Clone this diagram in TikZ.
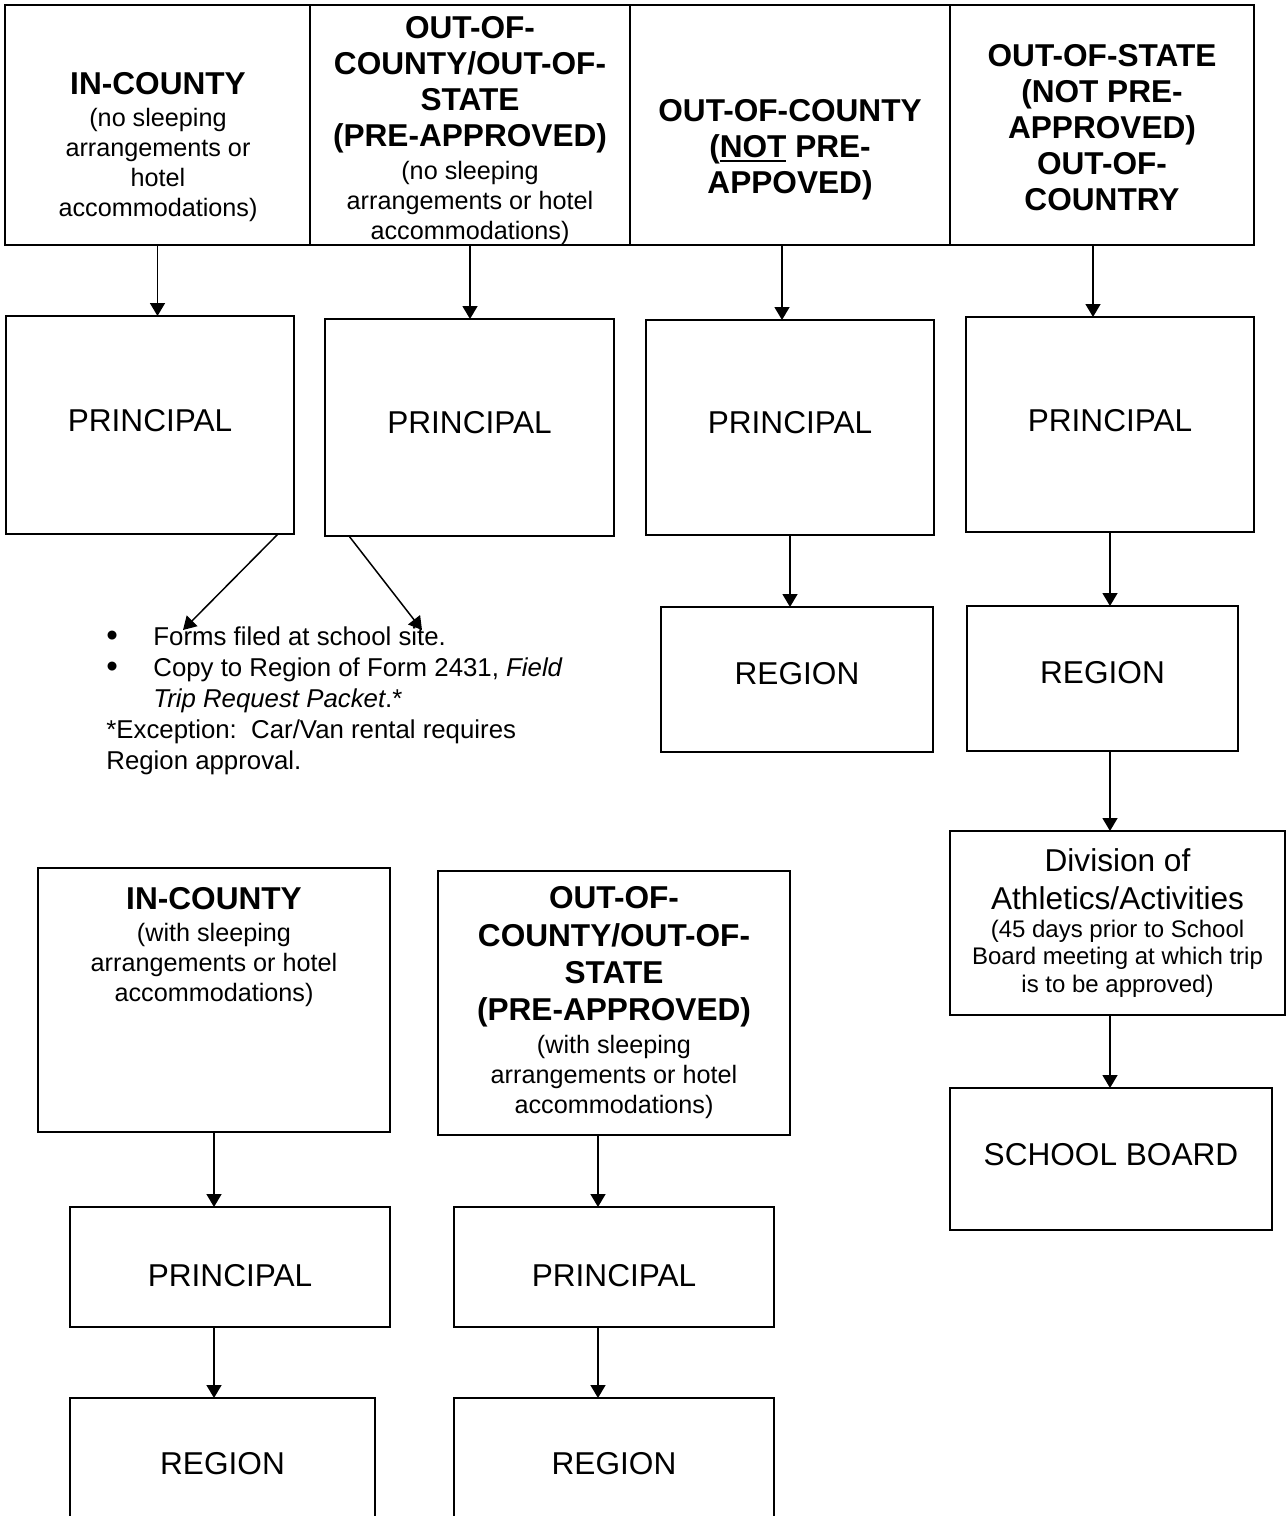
\documentclass[tikz,border=0pt]{standalone}
\usepackage{fontspec}
\setmainfont{Liberation Sans}
\usetikzlibrary{arrows.meta}

\newcommand{\hdbig}{\fontsize{15.8}{18}\selectfont\bfseries}
\newcommand{\hdsmall}{\fontsize{12.6}{15}\selectfont}
\newcommand{\boxfont}{\fontsize{15.8}{19}\selectfont}
\newcommand{\undl}[1]{\leavevmode\vtop{\hbox{#1}\kern1.2pt\hrule height 1.1pt}}
\newcommand{\bigdot}{\makebox[23.5pt][l]{\raisebox{-0.8pt}{\fontsize{16.5}{15}\selectfont\textbullet}}}

\tikzset{
  hdcell/.style={draw, line width=1pt, inner sep=0pt, outer sep=0pt, anchor=north west},
  hdtext/.style={anchor=north, inner sep=0pt, align=center, font=\hdsmall},
  stepbox/.style={draw, line width=1pt, inner sep=0pt, outer sep=0pt, anchor=north west, font=\boxfont},
  flow/.style={-{Triangle[width=7.5pt,length=6.5pt]}, line width=0.75pt},
}

\begin{document}
\begin{tikzpicture}[x=0.5pt, y=-0.5pt]
  \useasboundingbox (0,0) rectangle (1286,1516);
  \clip (0,0) rectangle (1286,1516);

  % header row
  \node [hdcell, minimum width=152.5pt, minimum height=120pt] (hdA) at (5,5) {};
  \node [hdcell, minimum width=160pt, minimum height=120pt] (hdB) at (310,5) {};
  \node [hdcell, minimum width=160pt, minimum height=120pt] (hdC) at (630,5) {};
  \node [hdcell, minimum width=152pt, minimum height=120pt] (hdD) at (950,5) {};

  \node [hdtext] (hdAtxt) at (158,72) {{\hdbig IN-COUNTY}\\[1.25pt](no sleeping\\arrangements or\\hotel\\accommodations)};
  \node [hdtext] (hdBtxt) at (470,16) {{\hdbig OUT-OF-}\\[3pt]{\hdbig COUNTY/OUT-OF-}\\[3pt]{\hdbig STATE}\\[3pt]{\hdbig (PRE-APPROVED)}\\[1.75pt](no sleeping\\arrangements or hotel\\accommodations)};
  \node [hdtext, font=\hdbig] (hdCtxt) at (790,99) {OUT-OF-COUNTY\\(\undl{NOT} PRE-\\APPOVED)};
  \node [hdtext, font=\hdbig] (hdDtxt) at (1102,44) {OUT-OF-STATE\\(NOT PRE-\\APPROVED)\\OUT-OF-\\COUNTRY};

  % principal row
  \node [stepbox, minimum width=144pt, minimum height=109pt, text depth=5pt] (pA) at (6,316) {PRINCIPAL};
  \node [stepbox, minimum width=144.5pt, minimum height=108.5pt, text depth=5.5pt] (pB) at (325,319) {PRINCIPAL};
  \node [stepbox, minimum width=144pt, minimum height=107.5pt, text depth=5.5pt] (pC) at (646,320) {PRINCIPAL};
  \node [stepbox, minimum width=144pt, minimum height=107.5pt, text depth=4.5pt] (pD) at (966,317) {PRINCIPAL};

  \draw [flow] (hdA.south) -- (hdA.south |- pA.north);
  \draw [flow] (hdB.south) -- (hdB.south |- pB.north);
  \draw [flow] ([xshift=-4pt]hdC.south) -- ([xshift=-4pt]hdC.south |- pC.north);
  \draw [flow] ([xshift=-4.5pt]hdD.south) -- ([xshift=-4.5pt]hdD.south |- pD.north);

  % note under the first two
  \node [anchor=north west, inner sep=0pt, align=left, font=\fontsize{12.9}{15.6}\selectfont] (notes) at (106,626)
    {\bigdot Forms filed at school site.\\
     \bigdot Copy to Region of Form 2431, \textit{Field}\\
     \hspace*{23.5pt}\textit{Trip Request Packet}.*\\
     *Exception:\ \ Car/Van rental requires\\
     Region approval.};
  \coordinate (ntA) at (183,630);
  \coordinate (ntB) at (422,630);
  \draw [flow] ([xshift=-8pt]pA.south east) -- (ntA);
  \draw [flow] ([xshift=12pt]pB.south west) -- (ntB);

  % region, division, school board
  \node [stepbox, minimum width=136pt, minimum height=72.5pt, text depth=6.5pt] (rC) at (661,607) {REGION};
  \node [stepbox, minimum width=135.5pt, minimum height=72.5pt, text depth=6.5pt] (rD) at (967,606) {REGION};
  \node [stepbox, minimum width=167.5pt, minimum height=92pt, align=center, font=\fontsize{12}{13.75}\selectfont] (dv) at (950,831)
    {{\boxfont Division of}\\[5.25pt]{\boxfont Athletics/Activities}\\[0.25pt](45 days prior to School\\Board meeting at which trip\\is to be approved)};
  \node [stepbox, minimum width=161pt, minimum height=71pt, text depth=5pt] (sb) at (950,1088) {SCHOOL BOARD};

  \draw [flow] (pC.south) -- (pC.south |- rC.north);
  \draw [flow] (pD.south) -- (pD.south |- rD.north);
  \draw [flow] (pD.south |- rD.south) -- (pD.south |- dv.north);
  \draw [flow] (pD.south |- dv.south) -- (pD.south |- sb.north);

  % lower left: with sleeping arrangements
  \node [hdcell, minimum width=176pt, minimum height=132pt] (icB) at (38,868) {};
  \node [hdtext] (icBtxt) at (214,887) {{\hdbig IN-COUNTY}\\[1.25pt](with sleeping\\arrangements or hotel\\accommodations)};
  \node [hdcell, minimum width=176pt, minimum height=132pt, align=center, font=\hdsmall] (ocB) at (438,871)
    {{\hdbig OUT-OF-}\\[4pt]{\hdbig COUNTY/OUT-OF-}\\[3.5pt]{\hdbig STATE}\\[3.5pt]{\hdbig (PRE-APPROVED)}\\[1.5pt](with sleeping\\arrangements or hotel\\accommodations)};

  \node [stepbox, minimum width=160pt, minimum height=60pt, text height=19.3pt] (pE) at (70,1207) {PRINCIPAL};
  \node [stepbox, minimum width=160pt, minimum height=60pt, text height=19.3pt] (pF) at (454,1207) {PRINCIPAL};
  \node [stepbox, minimum width=152.5pt, minimum height=66pt] (rE) at (70,1398) {REGION};
  \node [stepbox, minimum width=160pt, minimum height=66pt] (rF) at (454,1398) {REGION};

  \draw [flow] (icB.south) -- (icB.south |- pE.north);
  \draw [flow] (icB.south |- pE.south) -- (icB.south |- rE.north);
  \draw [flow] ([xshift=-8pt]ocB.south) -- ([xshift=-8pt]ocB.south |- pF.north);
  \draw [flow] ([xshift=-8pt]ocB.south |- pF.south) -- ([xshift=-8pt]ocB.south |- rF.north);
\end{tikzpicture}
\end{document}
